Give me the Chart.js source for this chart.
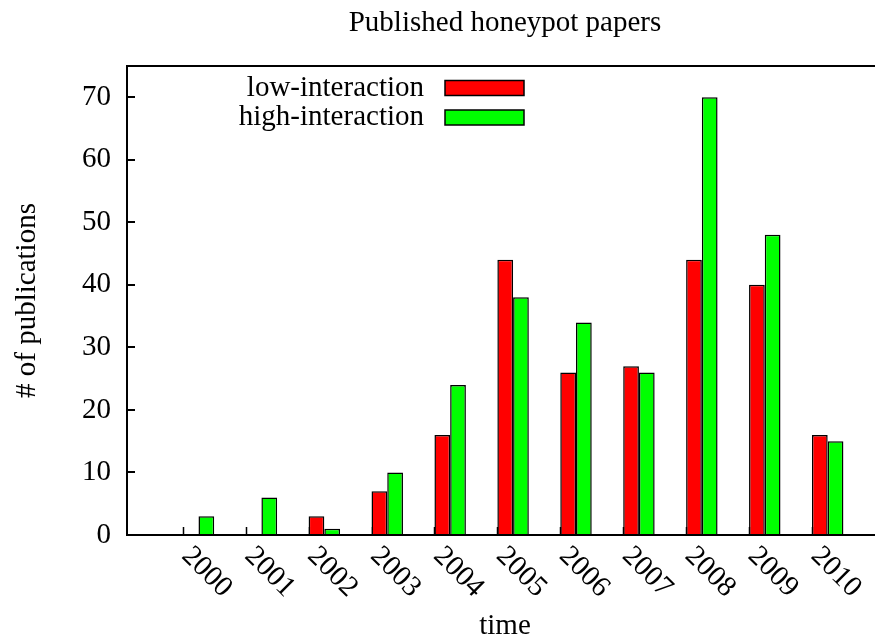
<!DOCTYPE html>
<html>
<head>
<meta charset="utf-8">
<script src="https://cdn.jsdelivr.net/npm/chart.js@4/dist/chart.umd.min.js"></script>
<style>
  html, body { margin: 0; padding: 0; background: #fff; overflow: hidden; }
  #wrap { width: 884px; height: 641px; position: relative; }
</style>
</head>
<body>
<div id="wrap"><canvas id="myChart"></canvas></div>
<script>
const TITLE = "Published honeypot papers";
const YEARS = [2000, 2001, 2002, 2003, 2004, 2005, 2006, 2007, 2008, 2009, 2010];
const LOW_INTERACTION = [0, 0, 3, 7, 16, 44, 26, 27, 44, 40, 16];
const HIGH_INTERACTION = [3, 6, 1, 10, 24, 38, 34, 26, 70, 48, 15];
const Y_TICKS = [0, 10, 20, 30, 40, 50, 60, 70];

const FONT = "'Liberation Serif', 'Times New Roman', serif";
const FSIZE = 29;

// gnuplot-like frame, inward tick marks, legend, title and rotated year labels
const gnuplotLook = {
	id: "gnuplotLook",
	beforeDatasetsDraw(chart) {
		const { ctx, chartArea: a, scales } = chart;
		ctx.save();
		ctx.strokeStyle = "#000";
		ctx.lineWidth = 1.5;
		ctx.beginPath();
		YEARS.forEach(y => {
			const px = Math.round(scales.x.getPixelForValue(y - 0.25)) + 0.5;
			ctx.moveTo(px, a.bottom);
			ctx.lineTo(px, a.bottom - 8);
		});
		ctx.stroke();
		ctx.restore();
	},
	afterDraw(chart) {
		const { ctx, chartArea: a, scales } = chart;
		ctx.save();
		ctx.strokeStyle = "#000";
		ctx.lineWidth = 2;
		ctx.strokeRect(a.left, a.top, a.right - a.left, a.bottom - a.top);
		ctx.beginPath();
		Y_TICKS.forEach(v => {
			const py = Math.round(scales.y.getPixelForValue(v));
			ctx.moveTo(a.left, py);
			ctx.lineTo(a.left + 8, py);
			ctx.moveTo(a.right, py);
			ctx.lineTo(a.right - 8, py);
		});
		ctx.stroke();

		ctx.fillStyle = "#000";
		ctx.font = FSIZE + "px " + FONT;
		// title
		ctx.textAlign = "center";
		ctx.textBaseline = "alphabetic";
		ctx.fillText(TITLE, (a.left + a.right) / 2, 31);

		// rotated x labels
		YEARS.forEach(y => {
			const px = scales.x.getPixelForValue(y - 0.25);
			ctx.save();
			ctx.translate(px - 2, a.bottom + 22);
			ctx.rotate(Math.PI / 4);
			ctx.textAlign = "left";
			ctx.textBaseline = "alphabetic";
			ctx.fillText(String(y), 0, 0);
			ctx.restore();
		});

		// legend: text right-aligned, box to its right
		chart.data.datasets.forEach((ds, i) => {
			const cy = a.top + 22 + i * 29.5;
			const bx = a.left + 318;
			ctx.textAlign = "right";
			ctx.textBaseline = "middle";
			ctx.fillStyle = "#000";
			ctx.fillText(ds.label, bx - 21, cy);
			ctx.fillStyle = ds.backgroundColor;
			ctx.fillRect(bx, cy - 7.5, 79, 15);
			ctx.lineWidth = 1.5;
			ctx.strokeStyle = "#000";
			ctx.strokeRect(bx, cy - 7.5, 79, 15);
		});
		ctx.restore();
	}
};

new Chart(document.getElementById("myChart"), {
	type: "bar",
	data: {
		datasets: [
			{
				label: "low-interaction",
				data: YEARS.map((y, i) => ({ x: y, y: LOW_INTERACTION[i] })),
				backgroundColor: "#ff0000",
				borderColor: "#000",
				borderWidth: 1.5
			},
			{
				label: "high-interaction",
				data: YEARS.map((y, i) => ({ x: y, y: HIGH_INTERACTION[i] })),
				backgroundColor: "#00ff00",
				borderColor: "#000",
				borderWidth: 1.5
			}
		]
	},
	options: {
		responsive: true,
		maintainAspectRatio: false,
		animation: false,
		devicePixelRatio: 1,
		categoryPercentage: 0.5,
		barPercentage: 1.0,
		layout: { padding: { top: 66, right: 1, left: 0, bottom: 0 } },
		plugins: {
			legend: { display: false },
			title: { display: false },
			tooltip: { enabled: false }
		},
		scales: {
			x: {
				type: "linear",
				offset: false,
				min: 1998.864,
				max: 2010.879,
				grid: { display: false, drawTicks: false, offset: false },
				border: { display: false },
				ticks: { display: false },
				title: {
					display: true,
					text: "time",
					color: "#000",
					font: { family: FONT, size: FSIZE, lineHeight: 1 },
					padding: 0
				},
				afterFit: s => { s.height = 106; }
			},
			y: {
				min: 0,
				max: 75,
				grid: { display: false, drawTicks: false },
				border: { display: false },
				ticks: {
					stepSize: 10,
					includeBounds: false,
					color: "#000",
					padding: 16,
					font: { family: FONT, size: FSIZE }
				},
				title: {
					display: true,
					text: "# of publications",
					color: "#000",
					font: { family: FONT, size: FSIZE, lineHeight: 1 },
					padding: { top: 13, bottom: 0 }
				},
				afterFit: s => { s.width = 127; }
			}
		}
	},
	plugins: [gnuplotLook]
});
</script>
</body>
</html>
